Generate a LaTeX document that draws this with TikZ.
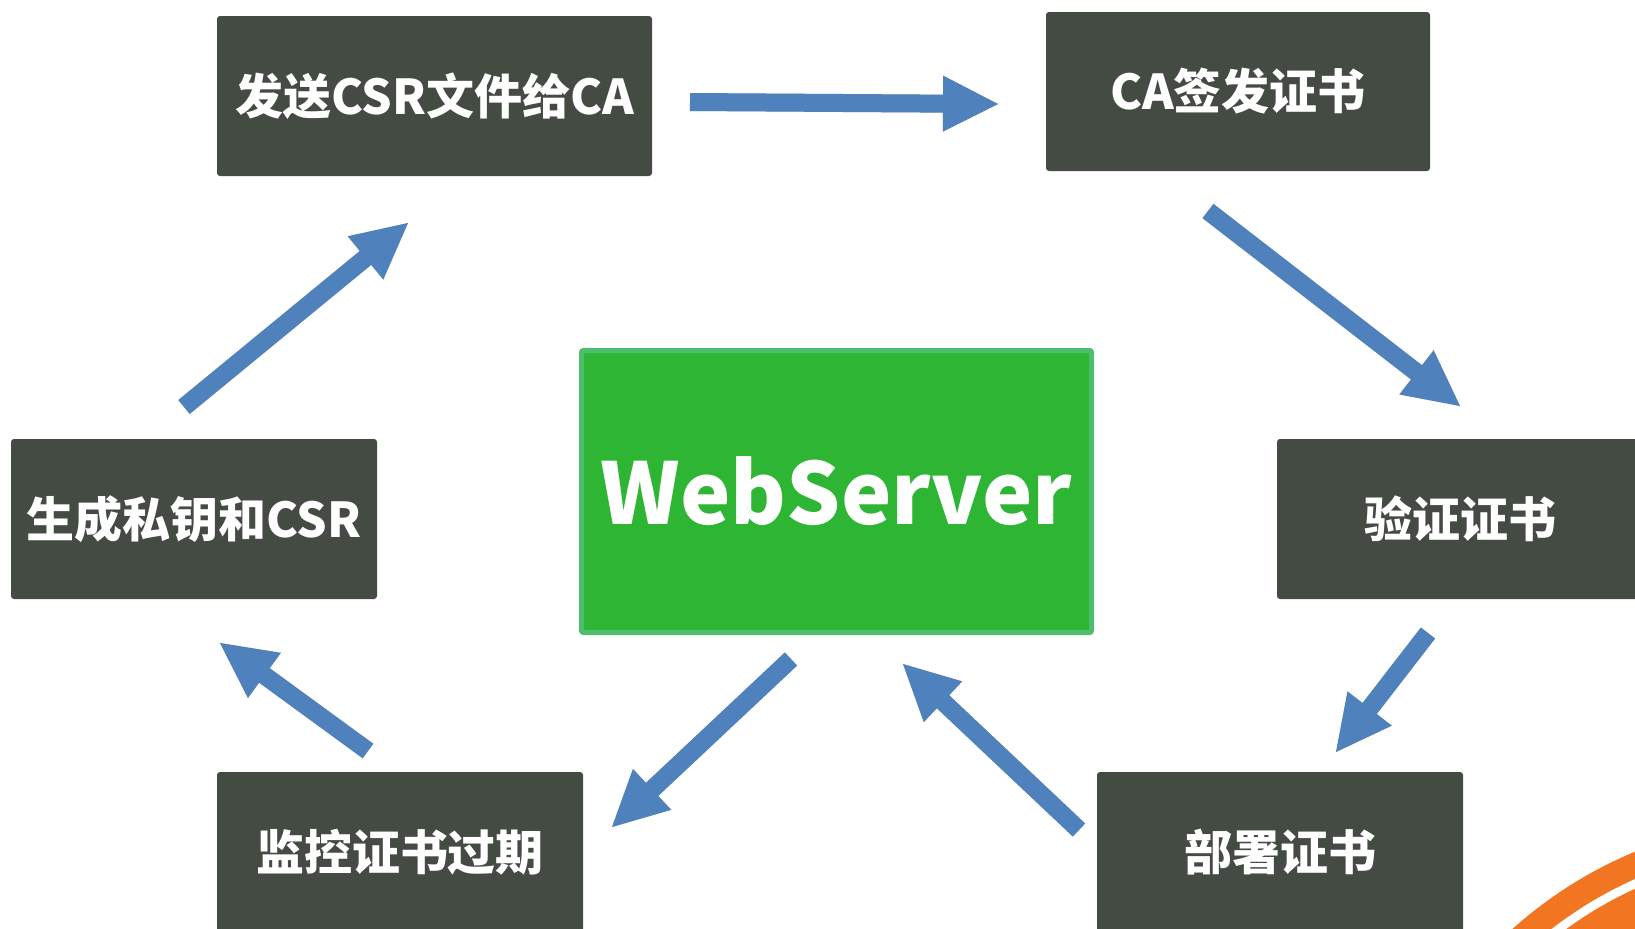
\documentclass[tikz,border=0pt]{standalone}
\usepackage{fontspec}
\newfontfamily\cjk{Noto Sans CJK SC}
\usetikzlibrary{calc}
\definecolor{boxdark}{HTML}{434B43}
\definecolor{arrowblue}{HTML}{4F81BD}
\definecolor{webgreen}{HTML}{2EB534}
\definecolor{webedge}{HTML}{4DBD6E}
\definecolor{decoorange}{HTML}{F27522}
\tikzset{
  procbox/.style={fill=boxdark, rounded corners=1.5pt, text=white, inner sep=0pt,
    font=\cjk\bfseries\fontsize{24}{29}\selectfont, minimum width=183pt, minimum height=80pt},
  webbox/.style={fill=webgreen, draw=webedge, line width=2.5pt, rounded corners=1pt, text=white, inner sep=0pt,
    font=\cjk\bfseries\fontsize{42.5}{50}\selectfont, minimum width=255pt, minimum height=141pt},
}
\newcommand\blockarrow[2]{%
  \path ($(#2)!27.5pt!(#1)$) coordinate (bah);
  \foreach \dx/\dy/\op in {3/4/0.07, 2/3/0.08, 1/2/0.08}{
    \fill[black, opacity=\op, shift={(\dx,\dy)}]
      ($(#1)!4.5pt!90:(#2)$) -- ($(bah)!4.5pt!90:(#2)$) -- ($(bah)!14pt!90:(#2)$) -- (#2)
      -- ($(bah)!14pt!-90:(#2)$) -- ($(bah)!4.5pt!-90:(#2)$) -- ($(#1)!4.5pt!-90:(#2)$) -- cycle;
  }
  \fill[arrowblue]
    ($(#1)!4.5pt!90:(#2)$) -- ($(bah)!4.5pt!90:(#2)$) -- ($(bah)!14pt!90:(#2)$) -- (#2)
    -- ($(bah)!14pt!-90:(#2)$) -- ($(bah)!4.5pt!-90:(#2)$) -- ($(#1)!4.5pt!-90:(#2)$) -- cycle;
}
\begin{document}
\begin{tikzpicture}[x=0.5pt,y=-0.5pt]
\useasboundingbox (0,0) rectangle (1635,928);
\clip (0,0) rectangle (1635,928);
\fill[white] (0,0) rectangle (1635,928);

% decoration arcs
\coordinate (arcc) at (1800,1250);
\fill[decoorange, even odd rule] (arcc) circle (215.5pt) (arcc) circle (203pt);
\fill[decoorange, even odd rule] (arcc) circle (198.5pt) (arcc) circle (175pt);

% boxes
\node[procbox, minimum width=217.5pt] (send) at (434.5,96) {发送CSR文件给CA};
\node[procbox, minimum width=192pt, minimum height=79.5pt] (ca) at (1238,91.5) {CA签发证书};
\node[procbox] (verify) at (1460,519) {验证证书};
\node[procbox] (deploy) at (1280,852) {部署证书};
\node[procbox] (monitor) at (400,852) {监控证书过期};
\node[procbox] (gen) at (194,519) {生成私钥和CSR};
\node[webbox] (web) at (836.5,491.5) {WebServer};

% arrow end points
\coordinate (a1s) at (184,407);  \coordinate (a1e) at (408,223);
\coordinate (a2s) at (690,102);  \coordinate (a2e) at (998,104);
\coordinate (a3s) at (1208,211); \coordinate (a3e) at (1460,406);
\coordinate (a4s) at (1428,633); \coordinate (a4e) at (1336,752);
\coordinate (a5s) at (1079,830); \coordinate (a5e) at (903,664);
\coordinate (a6s) at (791,659);  \coordinate (a6e) at (612,827);
\coordinate (a7s) at (368,751);  \coordinate (a7e) at (220,643);

\blockarrow{a1s}{a1e}
\blockarrow{a2s}{a2e}
\blockarrow{a3s}{a3e}
\blockarrow{a4s}{a4e}
\blockarrow{a5s}{a5e}
\blockarrow{a6s}{a6e}
\blockarrow{a7s}{a7e}
\end{tikzpicture}
\end{document}
